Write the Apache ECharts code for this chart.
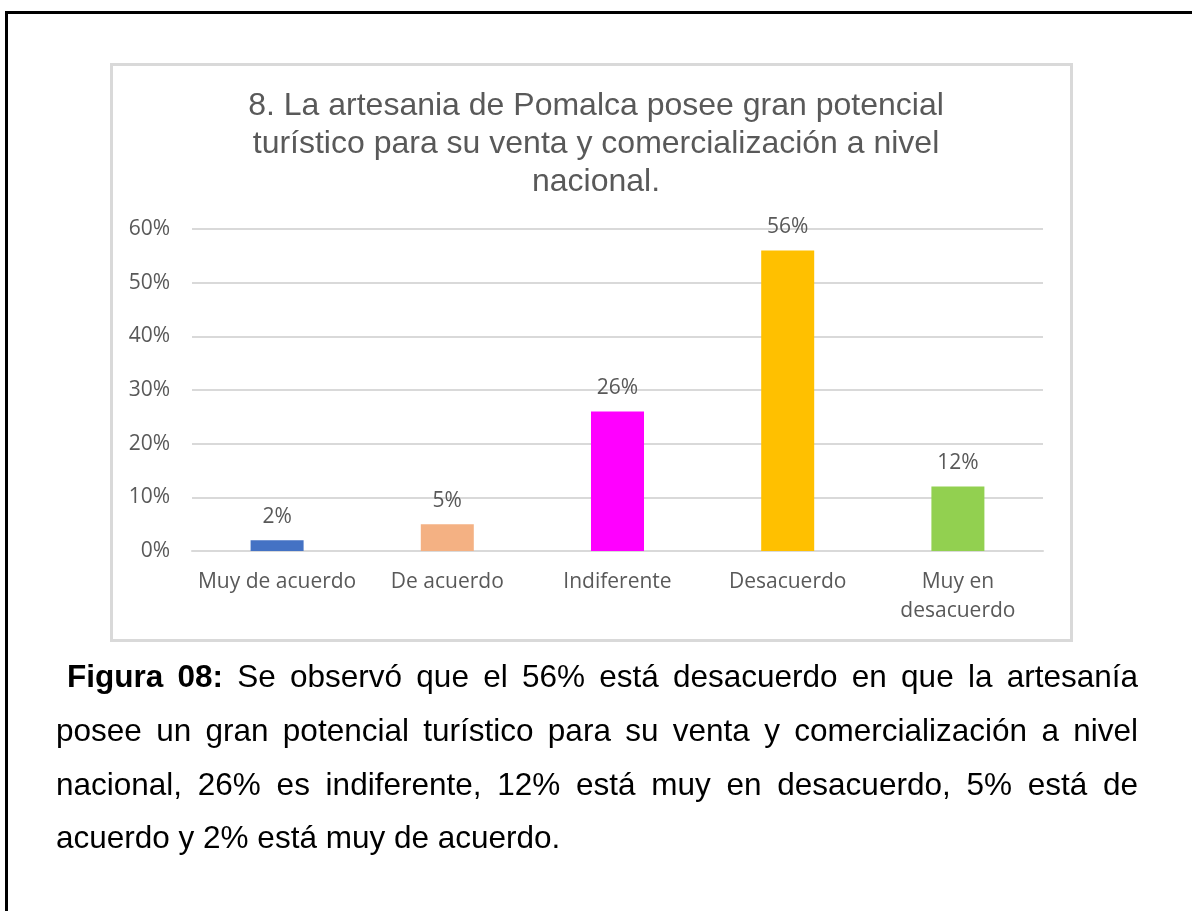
<!DOCTYPE html>
<html>
<head>
<meta charset="utf-8">
<script src="https://cdn.jsdelivr.net/npm/echarts@6/dist/echarts.min.js"></script>
<style>
  html, body { margin: 0; padding: 0; background: #fff; overflow: hidden; }
  body { width: 1192px; height: 911px; position: relative; }
  .frame { position: absolute; left: 5px; top: 11px; width: 1400px; height: 1200px;
           border-left: 3px solid #000; border-top: 3px solid #000; }
  .chartbox { position: absolute; left: 110px; top: 63px; width: 963px; height: 579px;
              box-sizing: border-box; border: 3px solid #d9d9d9; }
  #chart { position: absolute; left: 0; top: 0; width: 1192px; height: 911px; }
  .caption { position: absolute; left: 56px; width: 1082px; font-family: "Liberation Sans", Arial, sans-serif;
             font-size: 31.5px; color: #000; line-height: 40px; }
  .just { text-align: justify; text-align-last: justify; }
</style>
</head>
<body>
<div class="frame"></div>
<div class="chartbox"></div>
<div id="chart"></div>
<div class="caption just" style="top:656px; left:67px; width:1071px;"><b>Figura 08:</b> Se observó que el 56% está desacuerdo en que la artesanía</div>
<div class="caption just" style="top:710px;">posee un gran potencial turístico para su venta y comercialización a nivel</div>
<div class="caption just" style="top:764px;">nacional, 26% es indiferente, 12% está muy en desacuerdo, 5% está de</div>
<div class="caption" style="top:817px;">acuerdo y 2% está muy de acuerdo.</div>
<script>
// datos del gráfico
var titleText = '8. La artesania de Pomalca posee gran potencial\nturístico para su venta y comercialización a nivel\nnacional.';
var categories = ['Muy de acuerdo', 'De acuerdo', 'Indiferente', 'Desacuerdo', 'Muy en\ndesacuerdo'];
var values = [2, 5, 26, 56, 12];
var barColors = ['#4472c4', '#f4b183', '#ff00ff', '#ffc000', '#92d050'];

var myChart = echarts.init(document.getElementById('chart'));
myChart.setOption({
    animation: false,
    title: {
        text: titleText,
        left: 'center',
        top: 82,
        textStyle: {
            fontFamily: 'Liberation Sans',
            fontSize: 32,
            fontWeight: 'normal',
            color: '#595959',
            lineHeight: 38
        }
    },
    grid: {
        left: 192,
        right: 149,
        top: 229,
        bottom: 360
    },
    xAxis: {
        type: 'category',
        data: categories,
        axisTick: { show: false },
        axisLine: { lineStyle: { color: '#d9d9d9', width: 2 } },
        axisLabel: {
            interval: 0,
            margin: 17,
            color: '#595959',
            fontFamily: 'Open Sans',
            fontSize: 21,
            lineHeight: 29
        }
    },
    yAxis: {
        type: 'value',
        min: 0,
        max: 60,
        interval: 10,
        axisLine: { show: false },
        axisTick: { show: false },
        axisLabel: {
            margin: 22,
            color: '#595959',
            fontFamily: 'Open Sans',
            fontSize: 21,
            formatter: '{value}%'
        },
        splitLine: { lineStyle: { color: '#d9d9d9', width: 2 } }
    },
    series: [{
        type: 'bar',
        barWidth: 53,
        data: values.map(function (v, i) {
            return { value: v, itemStyle: { color: barColors[i] } };
        }),
        label: {
            show: true,
            position: 'top',
            distance: 13,
            formatter: '{c}%',
            color: '#595959',
            fontFamily: 'Open Sans',
            fontSize: 21
        }
    }]
});
</script>
</body>
</html>
